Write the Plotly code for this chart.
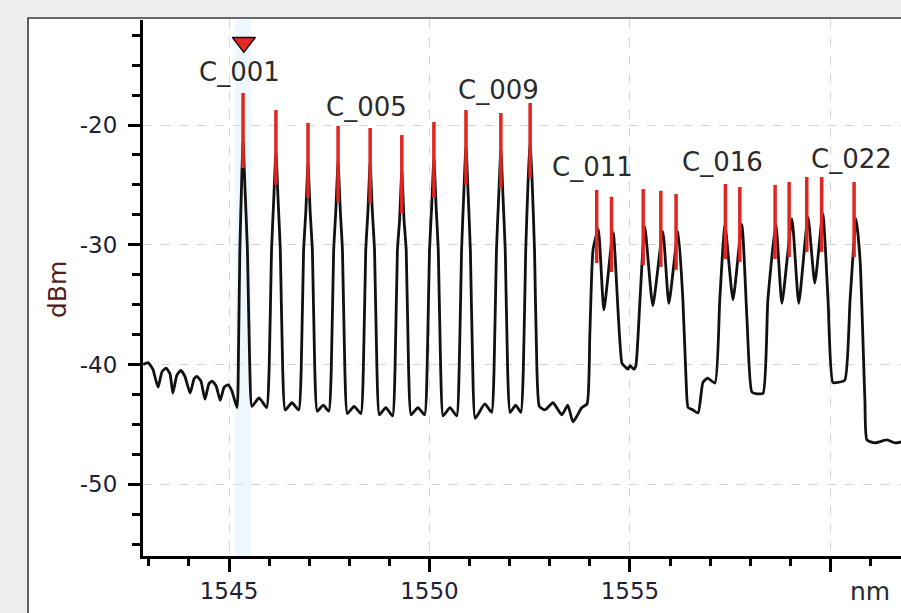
import plotly.graph_objects as go

# ---------------- data ----------------
trace_nm = [
    1542.86, 1542.98, 1543.10, 1543.23, 1543.33, 1543.43, 1543.53, 1543.60, 1543.70, 1543.80,
    1543.90, 1544.03, 1544.13, 1544.20, 1544.30, 1544.40, 1544.50, 1544.58, 1544.68, 1544.78,
    1544.88, 1544.98, 1545.07, 1545.20,
    # C_001 .. C_010
    1545.24, 1545.27, 1545.31, 1545.35, 1545.40, 1545.46, 1545.52, 1545.57, 1545.75,
    1545.94, 1546.00, 1546.06, 1546.115, 1546.17, 1546.225, 1546.28, 1546.34, 1546.40, 1546.57,
    1546.74, 1546.80, 1546.86, 1546.915, 1546.97, 1547.025, 1547.08, 1547.14, 1547.20, 1547.35,
    1547.49, 1547.55, 1547.61, 1547.665, 1547.72, 1547.775, 1547.83, 1547.89, 1547.95, 1548.12,
    1548.29, 1548.35, 1548.41, 1548.465, 1548.52, 1548.575, 1548.63, 1548.69, 1548.75, 1548.91,
    1549.08, 1549.14, 1549.20, 1549.255, 1549.31, 1549.365, 1549.42, 1549.48, 1549.54, 1549.71,
    1549.88, 1549.94, 1550.00, 1550.055, 1550.11, 1550.165, 1550.22, 1550.28, 1550.34, 1550.51,
    1550.68, 1550.74, 1550.80, 1550.855, 1550.91, 1550.965, 1551.02, 1551.08, 1551.14, 1551.38,
    1551.55, 1551.61, 1551.67, 1551.725, 1551.78, 1551.835, 1551.89, 1551.95, 1552.01, 1552.15,
    1552.28, 1552.34, 1552.40, 1552.455, 1552.51, 1552.565, 1552.62, 1552.68, 1552.74,
    1552.88, 1553.08, 1553.30, 1553.45, 1553.58, 1553.80, 1553.93,
    # C_011 .. C_022
    1554.00, 1554.08, 1554.21, 1554.35, 1554.58, 1554.80, 1554.88, 1554.95, 1555.00, 1555.10,
    1555.15, 1555.25, 1555.37, 1555.57, 1555.82, 1555.97, 1556.20, 1556.32, 1556.40, 1556.45,
    1556.57, 1556.70, 1556.82, 1556.94, 1557.12, 1557.24, 1557.37, 1557.57, 1557.79, 1557.92,
    1558.04, 1558.17, 1558.32, 1558.44, 1558.64, 1558.79, 1559.04, 1559.21, 1559.44, 1559.61,
    1559.81, 1559.94, 1560.06, 1560.19, 1560.36, 1560.49, 1560.64, 1560.74, 1560.86, 1560.91,
    1561.11, 1561.41, 1561.61, 1561.86,
]
trace_dbm = [
    -40.0, -39.85, -40.4, -41.9, -40.6, -40.3, -40.8, -42.4, -40.9, -40.5,
    -41.0, -42.4, -41.2, -41.0, -41.4, -42.9, -41.6, -41.4, -41.8, -43.0,
    -41.9, -41.7, -42.2, -43.6,
    -38.0, -30.5, -25.4, -21.4, -25.4, -30.5, -40.5, -43.5, -42.8,
    -43.6, -40.5, -30.5, -26.3, -22.3, -26.3, -30.5, -40.5, -43.8, -43.2,
    -43.8, -40.5, -30.5, -27.3, -23.3, -27.3, -30.5, -40.5, -43.9, -43.4,
    -43.9, -40.5, -30.5, -27.1, -23.1, -27.1, -30.5, -40.5, -44.1, -43.5,
    -44.1, -40.5, -30.5, -27.2, -23.2, -27.2, -30.5, -40.5, -44.2, -43.6,
    -44.3, -40.5, -30.5, -27.9, -23.9, -27.9, -30.5, -40.5, -44.2, -43.6,
    -44.2, -40.5, -30.5, -26.8, -22.8, -26.8, -30.5, -40.5, -44.3, -43.6,
    -44.3, -40.5, -30.5, -25.8, -21.8, -25.8, -30.5, -40.5, -44.5, -43.3,
    -44.0, -40.5, -30.5, -26.1, -22.1, -26.1, -30.5, -40.5, -44.0, -43.4,
    -44.0, -40.5, -30.5, -25.1, -21.1, -25.1, -30.5, -40.5, -43.5,
    -43.8, -43.2, -44.2, -43.4, -44.8, -43.6, -43.3,
    -37.4, -30.4, -28.7, -35.45, -29.0, -39.9, -40.2, -40.4, -40.1, -40.4,
    -40.05, -34.6, -28.5, -35.1, -28.9, -34.9, -28.9, -34.6, -41.3, -43.6,
    -43.8, -44.05, -41.5, -41.15, -41.55, -34.6, -28.35, -34.6, -28.3, -36.3,
    -42.3, -42.45, -42.4, -34.6, -28.3, -34.9, -27.85, -34.9, -27.7, -33.2,
    -27.4, -34.6, -41.5, -41.5, -41.3, -34.6, -27.85, -31.3, -43.0, -46.3,
    -46.55, -46.3, -46.55, -46.4,
]

# channel markers (red bars): centre wavelength, top and bottom level
chan_nm = [1545.35, 1546.17, 1546.97, 1547.72, 1548.52, 1549.31, 1550.11, 1550.91, 1551.78, 1552.51,
           1554.17, 1554.54, 1555.33, 1555.77, 1556.15, 1557.38, 1557.74, 1558.62, 1558.97, 1559.41,
           1559.78, 1560.59]
chan_top = [-17.33, -18.75, -19.83, -20.08, -20.25, -20.84, -19.75, -18.75, -19.0, -18.16,
            -25.43, -26.0, -25.35, -25.5, -25.76, -24.93, -25.18, -25.0, -24.76, -24.34,
            -24.34, -24.76]
chan_bottom = [-23.6, -25.0, -26.1, -26.4, -26.5, -27.35, -26.1, -25.0, -25.3, -24.4,
               -31.53, -32.28, -31.7, -31.86, -32.1, -31.2, -31.45, -31.2, -31.03, -30.6,
               -30.6, -31.03]

label_text = ["C_001", "C_005", "C_009", "C_011", "C_016", "C_022"]
label_nm = [1545.27, 1548.44, 1551.72, 1554.065, 1557.31, 1560.52]
label_dbm = [-15.57, -18.5, -17.08, -23.5, -23.09, -22.84]

marker_nm = [1545.37]
marker_dbm = [-13.1]

x_tickvals = [1545, 1550, 1555, 1560]
x_ticktext = ["1545", "1550", "1555", ""]
y_tickvals = [-20, -30, -40, -50]
y_ticktext = ["-20", "-30", "-40", "-50"]

# ---------------- figure ----------------
W, H = 901, 613
ML, MR, MT, MB = 143, 0, 20, 57
PW, PH = W - ML - MR, H - MT - MB

fig = go.Figure()

fig.add_trace(go.Scatter(
    x=trace_nm, y=trace_dbm, mode="lines",
    line=dict(color="#111111", width=2.8, shape="spline", smoothing=0.5),
    hoverinfo="skip", showlegend=False,
))

rx, ry = [], []
for c, t, b in zip(chan_nm, chan_top, chan_bottom):
    rx += [c, c, None]
    ry += [t, b, None]
fig.add_trace(go.Scatter(
    x=rx, y=ry, mode="lines", line=dict(color="#e0261e", width=3.5),
    hoverinfo="skip", showlegend=False,
))

fig.add_trace(go.Scatter(
    x=marker_nm, y=marker_dbm, mode="markers",
    marker=dict(symbol="triangle-down", size=20, color="#e42a1f",
                line=dict(color="#111111", width=1.5)),
    hoverinfo="skip", showlegend=False,
))

for t, xv, yv in zip(label_text, label_nm, label_dbm):
    fig.add_annotation(x=xv, y=yv, text=t, showarrow=False,
                       font=dict(family="DejaVu Sans", size=26, color="#2b2b2b"),
                       xanchor="center", yanchor="middle")

# white panel with dark border
fig.add_shape(type="rect", xref="paper", yref="paper",
              x0=(28 - ML) / PW, x1=1.1, y0=-0.3, y1=(H - MB - 18) / PH,
              fillcolor="white", line=dict(color="#3a3a3a", width=1.6), layer="below")
# highlighted channel band
fig.add_shape(type="rect", xref="x", yref="paper",
              x0=1545.16, x1=1545.56, y0=0, y1=1,
              fillcolor="rgba(195,225,242,0.28)", line=dict(width=0), layer="below")

fig.add_annotation(x=1560.99, y=(H - MB - 591) / PH, xref="x", yref="paper",
                   text="nm", showarrow=False,
                   font=dict(family="DejaVu Sans", size=25, color="#2b2b2b"),
                   xanchor="center", yanchor="middle")
fig.add_annotation(x=(57 - ML) / PW, y=(H - MB - 290) / PH, xref="paper", yref="paper",
                   text="dBm", showarrow=False, textangle=-90,
                   font=dict(family="DejaVu Sans", size=25, color="#561e1e"),
                   xanchor="center", yanchor="middle")

axis_font = dict(family="DejaVu Sans", size=23, color="#1e1e36")
fig.update_xaxes(
    range=[1542.855, 1561.76], tickvals=x_tickvals, ticktext=x_ticktext,
    ticks="outside", ticklen=13, tickwidth=3, tickcolor="black",
    minor=dict(dtick=1, ticks="outside", ticklen=7, tickwidth=3, tickcolor="black", showgrid=False),
    showline=True, linewidth=3, linecolor="black",
    showgrid=True, gridcolor="#d6d6d6", griddash="dash", gridwidth=1,
    zeroline=False, tickfont=axis_font, ticklabelstandoff=-1,
)
fig.update_yaxes(
    range=[-56.0, -11.23], tickvals=y_tickvals, ticktext=y_ticktext,
    ticks="outside", ticklen=12, tickwidth=3, tickcolor="black",
    minor=dict(dtick=2.5, tick0=-20, ticks="outside", ticklen=8, tickwidth=3, tickcolor="black", showgrid=False),
    showline=True, linewidth=3, linecolor="black",
    showgrid=True, gridcolor="#d6d6d6", griddash="dash", gridwidth=1,
    zeroline=False, tickfont=axis_font, ticklabelstandoff=6,
)

fig.update_layout(
    width=W, height=H, margin=dict(l=ML, r=MR, t=MT, b=MB),
    paper_bgcolor="#efefef", plot_bgcolor="rgba(0,0,0,0)",
    showlegend=False,
)

fig.write_html("out.html")
